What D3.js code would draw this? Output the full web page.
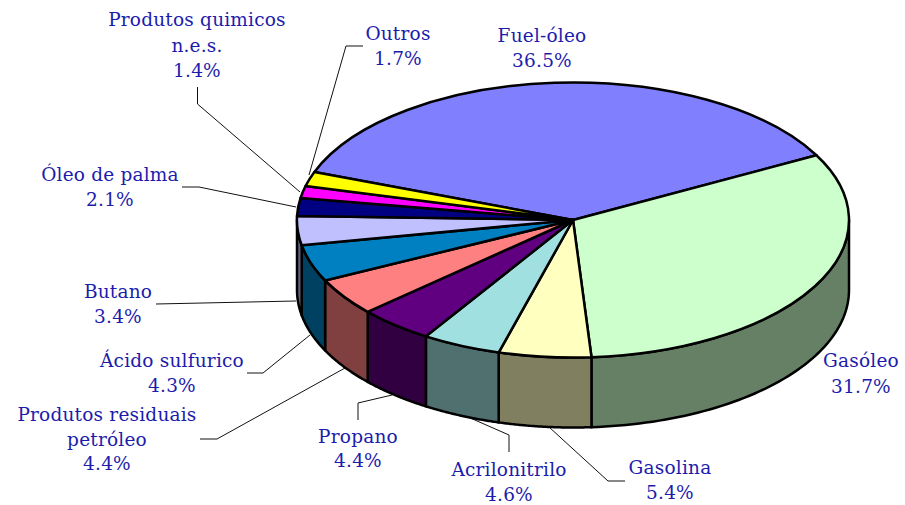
<!DOCTYPE html>
<html><head><meta charset="utf-8">
<script src="https://cdnjs.cloudflare.com/ajax/libs/d3/7.8.5/d3.min.js"></script>
<style>html,body{margin:0;padding:0;background:#fff}svg{display:block}
text{font-family:"DejaVu Serif",serif;font-size:18.5px;letter-spacing:.2px;fill:#1c1cac;text-anchor:middle}</style>
</head><body><svg width="905" height="505"></svg>
<script>
const categories = ["Fuel-óleo","Gasóleo","Gasolina","Acrilonitrilo","Propano","Produtos residuais petróleo","Ácido sulfurico","Butano","Óleo de palma","Produtos quimicos n.e.s.","Outros"];
const values = [36.5,31.7,5.4,4.6,4.4,4.4,4.3,3.4,2.1,1.4,1.7];
const topColors = ["#8080ff","#ccffcc","#ffffc0","#a0e0e0","#600080","#ff8080","#0080c0","#c0c0ff","#000080","#ff00ff","#ffff00"];
const sideColors = ["#404080","#668066","#808060","#507070","#300040","#804040","#004060","#606080","#000040","#800080","#808000"];
const labelLines = [["Fuel-óleo"],["Gasóleo"],["Gasolina"],["Acrilonitrilo"],["Propano"],["Produtos residuais","petróleo"],["Ácido sulfurico"],["Butano"],["Óleo de palma"],["Produtos quimicos","n.e.s."],["Outros"]];

// layout
const cx=573, cy=220, rx=276, ry=137.5, depth=70, startDeg=290.4;
const labelLayout = [
 {x:542,y:[42,67]},{x:861,y:[367,393]},{x:670,y:[474,499]},{x:509,y:[476,501]},
 {x:358,y:[443,467]},{x:107,y:[421,446,470]},{x:172,y:[367,392]},{x:118,y:[298,323]},
 {x:110,y:[181,206]},{x:197,y:[26,52,77]},{x:398,y:[40,65]}];
const leaders = [null,null,
 [[625,481],[608,481],[549,427]],
 [[509,452],[509,435],[468,417]],
 [[358,420],[358,403],[392,395]],
 [[200,439],[217,439],[345,368]],
 [[247,373],[263,373],[310,335]],
 [[156,304],[296,301]],
 [[182,187],[199,187],[296,207]],
 [[197.5,87],[197.5,104],[300,192]],
 [[363,46],[346,46],[309,175]]];

const svg=d3.select("svg");
const start=startDeg*Math.PI/180;
const arcs=d3.pie().sort(null).startAngle(start).endAngle(start+2*Math.PI)(values);
const X=d3.scaleLinear().domain([-1,1]).range([cx-rx,cx+rx]);
const Y=d3.scaleLinear().domain([-1,1]).range([cy-ry,cy+ry]);
const pt=(a,dz=0)=>[X(Math.sin(a)),Y(-Math.cos(a))+dz];
const line=d3.line();

// leader lines
svg.append("g").selectAll("path").data(leaders.filter(Boolean)).join("path")
 .attr("d",line).attr("fill","none").attr("stroke","#111").attr("stroke-width",1);

// side walls (visible front half only)
const tau=2*Math.PI;
const walls=[];
arcs.forEach((d,i)=>{
  for(const k of [0,1]){
    const a0=Math.max(d.startAngle,Math.PI/2+k*tau), a1=Math.min(d.endAngle,3*Math.PI/2+k*tau);
    if(a1>a0) walls.push({i,a0,a1});
  }
});
svg.append("g").selectAll("path").data(walls).join("path")
 .attr("d",w=>{
   const as=d3.range(0,61).map(j=>w.a0+(w.a1-w.a0)*j/60);
   return line(as.map(a=>pt(a)).concat(as.slice().reverse().map(a=>pt(a,depth))))+"Z";
 })
 .attr("fill",w=>sideColors[w.i]).attr("stroke","#000").attr("stroke-width",2.5).attr("stroke-linejoin","round");

// top face
const arcGen=d3.arc().innerRadius(0).outerRadius(1);
svg.append("g").attr("transform",`translate(${cx},${cy}) scale(${rx},${ry})`)
 .selectAll("path").data(arcs).join("path")
 .attr("d",arcGen).attr("fill",(d,i)=>topColors[i]).attr("stroke","#000")
 .attr("stroke-width",2.5).attr("stroke-linejoin","round").attr("vector-effect","non-scaling-stroke");

// labels
const g=svg.append("g");
categories.forEach((c,i)=>{
  const L=labelLayout[i], lines=labelLines[i].concat([d3.format(".1f")(values[i])+"%"]);
  lines.forEach((t,j)=>g.append("text").attr("x",L.x).attr("y",L.y[j]).text(t));
});
</script></body></html>
